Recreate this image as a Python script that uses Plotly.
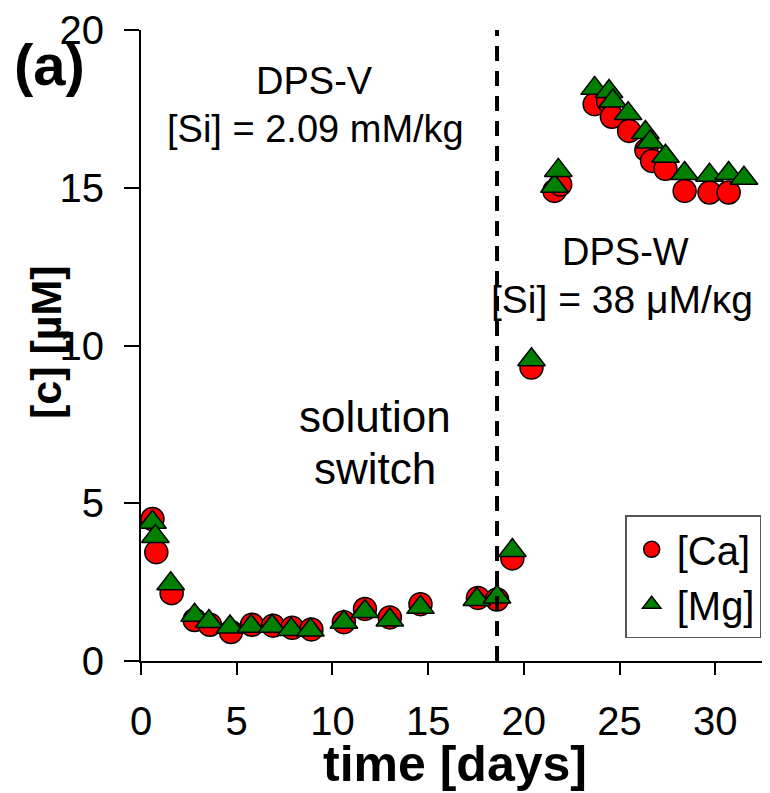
import plotly.graph_objects as go

# ---- data ----
ca_days = [0.6, 0.8, 1.6, 2.8, 3.6, 4.7, 5.8, 6.9, 7.9, 8.9, 10.6, 11.7, 13.0, 14.6, 17.6, 18.6,
           19.4, 20.4, 21.6, 21.9, 23.7, 24.4, 24.6, 25.5, 26.4, 26.7, 27.4, 28.4, 29.7, 30.7]
ca_vals = [4.5, 3.45, 2.15, 1.3, 1.15, 0.92, 1.15, 1.12, 1.05, 1.0, 1.23, 1.65, 1.38, 1.8, 2.0, 1.95,
           3.25, 9.3, 14.9, 15.1, 17.65, 17.75, 17.25, 16.8, 16.2, 15.85, 15.6, 14.9, 14.85, 14.85]

mg_days = [0.6, 0.75, 1.55, 2.8, 3.55, 4.65, 5.75, 6.85, 7.85, 8.85, 10.6, 11.7, 13.0, 14.6, 17.55, 18.6,
           19.4, 20.4, 21.6, 21.8, 23.7, 24.45, 24.65, 25.45, 26.35, 26.6, 27.4, 28.4, 29.7, 30.7, 31.5]
mg_vals = [4.4, 3.95, 2.45, 1.45, 1.25, 1.08, 1.1, 1.1, 1.0, 0.98, 1.23, 1.57, 1.3, 1.7, 1.95, 2.03,
           3.5, 9.55, 15.05, 15.55, 18.15, 18.05, 17.75, 17.35, 16.75, 16.45, 16.0, 15.45, 15.4, 15.45, 15.3]

switch_day = 18.6
x_ticks = [0, 5, 10, 15, 20, 25, 30]
y_ticks = [0, 5, 10, 15, 20]

FONT = "Liberation Sans, Arial, sans-serif"

fig = go.Figure()
fig.add_trace(go.Scatter(
    x=ca_days, y=ca_vals, mode="markers", name="[Ca]",
    marker=dict(symbol="circle", size=23, color="#ff0000", line=dict(color="black", width=1.5)),
))
fig.add_trace(go.Scatter(
    x=mg_days, y=mg_vals, mode="markers", name="[Mg]",
    marker=dict(symbol="triangle-up", size=24, color="#007f00", line=dict(color="black", width=1.5)),
))

fig.add_shape(type="line", x0=switch_day, x1=switch_day, y0=0, y1=20, xref="x", yref="y",
              line=dict(color="black", width=4, dash="15px,10px"))

ann_font = dict(family=FONT, size=38, color="black")
big_font = dict(family=FONT, size=44, color="black")
fig.add_annotation(x=9.05, y=18.37, xref="x", yref="y", text="DPS-V", showarrow=False, font=ann_font)
fig.add_annotation(x=9.1, y=16.87, xref="x", yref="y", text="[Si] = 2.09 mM/kg", showarrow=False, font=ann_font)
fig.add_annotation(x=12.25, y=7.75, xref="x", yref="y", text="solution", showarrow=False, font=big_font)
fig.add_annotation(x=12.25, y=6.1, xref="x", yref="y", text="switch", showarrow=False, font=big_font)
fig.add_annotation(x=25.3, y=12.95, xref="x", yref="y", text="DPS-W", showarrow=False, font=ann_font)
fig.add_annotation(x=25.15, y=11.45, xref="x", yref="y", text="[Si] = 38 μM/κg", showarrow=False,
                   font=dict(family=FONT, size=39, color="black"))
fig.add_annotation(x=-0.146, y=0.946, xref="paper", yref="paper", xanchor="center", yanchor="middle",
                   text="(a)", showarrow=False, font=dict(family=FONT, size=58, color="black", weight="bold"))
# axis titles
fig.add_annotation(x=0.499, y=-0.1638, xref="paper", yref="paper", xanchor="center", yanchor="middle",
                   text="time [days]", showarrow=False,
                   font=dict(family=FONT, size=50, color="black", weight="bold"))
fig.add_annotation(x=-0.151, y=0.5055, xref="paper", yref="paper", xanchor="center", yanchor="middle",
                   text="[c] [µM]", textangle=-90, showarrow=False,
                   font=dict(family=FONT, size=43, color="black", weight="bold"))

fig.update_layout(
    width=762, height=785,
    margin=dict(l=133, r=0, t=18, b=132),
    paper_bgcolor="white", plot_bgcolor="white",
    font=dict(family=FONT, color="black"),
    showlegend=True,
    legend=dict(x=0.986, y=0.036, xanchor="right", yanchor="bottom",
                bordercolor="#555555", borderwidth=1.5, bgcolor="white",
                font=dict(family=FONT, size=40, color="black"),
                itemwidth=40, tracegroupgap=0),
)
fig.update_xaxes(
    range=[0, 32.86], tickvals=x_ticks, ticks="outside", ticklen=12, tickwidth=1.5, tickcolor="black",
    showline=True, linecolor="black", linewidth=2, showgrid=False, zeroline=False,
    tickfont=dict(family=FONT, size=40), ticklabelstandoff=12, ticklabeloverflow="allow",
)
fig.update_yaxes(
    range=[0, 20], tickvals=y_ticks, ticks="outside", ticklen=15, tickwidth=1.5, tickcolor="black",
    showline=True, linecolor="black", linewidth=2, showgrid=False, zeroline=False,
    tickfont=dict(family=FONT, size=40), ticklabelstandoff=12, ticklabeloverflow="allow",
)

fig.write_html("out.html")
